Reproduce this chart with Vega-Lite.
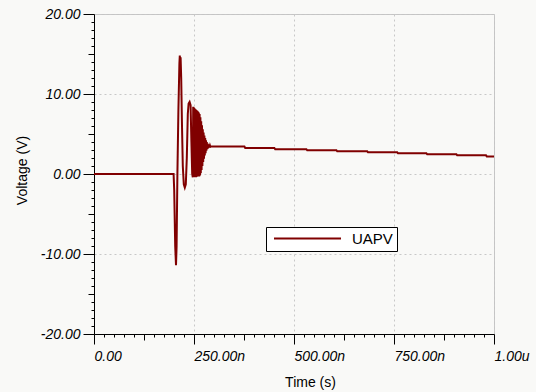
{
  "$schema": "https://vega.github.io/schema/vega-lite/v6.json",
  "width": 400,
  "height": 320,
  "autosize": "none",
  "padding": {"left": 94, "top": 14, "right": 42, "bottom": 58},
  "background": "#f9f9f7",
  "config": {"view": {"stroke": "#c4c4c4", "strokeWidth": 1}},
  "data": {
    "values": [
      {"t": 0, "v": 0}, {"t": 199, "v": 0}, {"t": 200.5, "v": -2}, {"t": 203, "v": -9},
      {"t": 205, "v": -11.4}, {"t": 206.5, "v": -9}, {"t": 208.5, "v": 0}, {"t": 211, "v": 8},
      {"t": 213.5, "v": 13.8}, {"t": 214.5, "v": 14.8}, {"t": 215.5, "v": 14.0}, {"t": 216.5, "v": 14.6},
      {"t": 218, "v": 12}, {"t": 220, "v": 6}, {"t": 222, "v": 1}, {"t": 224.5, "v": -1.3},
      {"t": 227, "v": -1.7}, {"t": 229.5, "v": -1.3}, {"t": 232, "v": 2}, {"t": 234.5, "v": 7.5},
      {"t": 236.5, "v": 8.8}, {"t": 239, "v": 9.0}, {"t": 241.5, "v": 8.6}, {"t": 243.5, "v": 4},
      {"t": 245.5, "v": 0}, {"t": 247, "v": -0.4},
      {"t": 248, "v": 8.4}, {"t": 249, "v": -0.4}, {"t": 250, "v": 8.3}, {"t": 251, "v": -0.4},
      {"t": 252, "v": 8.2}, {"t": 253, "v": -0.4}, {"t": 254, "v": 8.1}, {"t": 255, "v": -0.4},
      {"t": 256, "v": 8.0}, {"t": 257, "v": -0.35}, {"t": 258, "v": 7.9}, {"t": 259, "v": -0.3},
      {"t": 260, "v": 7.8}, {"t": 261, "v": -0.3}, {"t": 262, "v": 7.7}, {"t": 263, "v": -0.3},
      {"t": 264, "v": 7.5}, {"t": 265, "v": -0.2}, {"t": 266, "v": 7.1}, {"t": 267, "v": 0.1},
      {"t": 268, "v": 6.6}, {"t": 269, "v": 0.5}, {"t": 270, "v": 6.1}, {"t": 271, "v": 1.0},
      {"t": 272, "v": 5.6}, {"t": 273, "v": 1.5}, {"t": 274, "v": 5.2}, {"t": 275, "v": 1.9},
      {"t": 276, "v": 4.8}, {"t": 277, "v": 2.3}, {"t": 278, "v": 4.5}, {"t": 279, "v": 2.6},
      {"t": 280, "v": 4.2}, {"t": 281, "v": 2.9}, {"t": 282, "v": 4.0}, {"t": 283, "v": 3.1},
      {"t": 284, "v": 3.8}, {"t": 285, "v": 3.2}, {"t": 286, "v": 3.7}, {"t": 287, "v": 3.3},
      {"t": 288, "v": 3.6}, {"t": 289, "v": 3.35}, {"t": 290, "v": 3.55}, {"t": 291, "v": 3.4},
      {"t": 293, "v": 3.45},
      {"t": 376, "v": 3.45}, {"t": 378, "v": 3.25},
      {"t": 451, "v": 3.25}, {"t": 453, "v": 3.1},
      {"t": 531, "v": 3.1}, {"t": 533, "v": 2.97},
      {"t": 606, "v": 2.97}, {"t": 608, "v": 2.84},
      {"t": 683, "v": 2.84}, {"t": 685, "v": 2.71},
      {"t": 758, "v": 2.71}, {"t": 760, "v": 2.58},
      {"t": 831, "v": 2.58}, {"t": 833, "v": 2.46},
      {"t": 906, "v": 2.46}, {"t": 908, "v": 2.33},
      {"t": 980, "v": 2.33}, {"t": 982, "v": 2.2},
      {"t": 1000, "v": 2.2}
    ]
  },
  "resolve": {"axis": {"x": "independent", "y": "independent"}},
  "layer": [
    {
      "mark": {"type": "line", "strokeWidth": 2},
      "encoding": {
        "x": {
          "field": "t",
          "type": "quantitative",
          "scale": {"domain": [0, 1000], "nice": false, "zero": false},
          "axis": {
            "orient": "bottom",
            "title": "Time (s)",
            "titleFont": "Liberation Sans",
            "titleFontSize": 14,
            "titleFontWeight": "normal",
            "titleColor": "#000000",
            "titleX": 216,
            "titleY": 41,
            "titleBaseline": "top",
            "titleAlign": "center",
            "values": [0, 250, 500, 750, 1000],
            "labelExpr": "datum.value === 0 ? '0.00' : (datum.value === 1000 ? '1.00u' : format(datum.value, '.2f') + 'n')",
            "labelFont": "Liberation Sans",
            "labelFontSize": 14,
            "labelFontStyle": "italic",
            "labelColor": "#000000",
            "labelAlign": "left",
            "labelDx": -8,
            "labelPadding": 5,
            "tickSize": 10,
            "tickColor": "#000000",
            "domainColor": "#000000",
            "gridColor": "#c8c8c8",
            "gridDash": [2, 3]
          }
        },
        "y": {
          "field": "v",
          "type": "quantitative",
          "scale": {"domain": [-20, 20], "nice": false, "zero": false},
          "axis": {
            "orient": "left",
            "title": "Voltage (V)",
            "titleFont": "Liberation Sans",
            "titleFontSize": 14,
            "titleFontWeight": "normal",
            "titleColor": "#000000",
            "titleX": -72,
            "titleY": 156,
            "titleBaseline": "middle",
            "titleAlign": "center",
            "titleAngle": -90,
            "values": [-20, -10, 0, 10, 20],
            "labelExpr": "(datum.value < 0 ? '-' : '') + format(abs(datum.value), '.2f')",
            "labelFont": "Liberation Sans",
            "labelFontSize": 14,
            "labelFontStyle": "italic",
            "labelColor": "#000000",
            "labelPadding": 3,
            "labelOverlap": false,
            "labelBound": false,
            "labelFlush": false,
            "tickSize": 11,
            "tickColor": "#000000",
            "domainColor": "#000000",
            "gridColor": "#c8c8c8",
            "gridDash": [2, 3]
          }
        },
        "color": {
          "datum": "UAPV",
          "type": "nominal",
          "scale": {"domain": ["UAPV"], "range": ["#800000"]},
          "legend": {
            "title": null,
            "orient": "none",
            "legendX": 172,
            "legendY": 213,
            "padding": 4,
            "strokeColor": "#000000",
            "fillColor": "#ffffff",
            "symbolType": "M-6.7,0H6.7",
            "symbolSize": 100,
            "symbolStrokeWidth": 2,
            "symbolOffset": 30,
            "labelFont": "Liberation Sans",
            "labelFontSize": 15,
            "labelColor": "#000000",
            "labelOffset": 37
          }
        }
      }
    },
    {
      "mark": {"type": "line", "opacity": 0},
      "encoding": {
        "x": {
          "field": "t", "type": "quantitative",
          "axis": {
            "orient": "bottom", "title": null, "labels": false, "grid": false, "domain": false,
            "tickSize": 3, "tickColor": "#000000",
            "values": [25,50,75,100,150,175,200,225,275,300,325,350,400,425,450,475,525,550,575,600,650,675,700,725,775,800,825,850,900,925,950,975]
          }
        },
        "y": {
          "field": "v", "type": "quantitative",
          "axis": {
            "orient": "left", "title": null, "labels": false, "grid": false, "domain": false,
            "tickSize": 3, "tickColor": "#000000",
            "values": [-19,-18,-17,-16,-14,-13,-12,-11,-9,-8,-7,-6,-4,-3,-2,-1,1,2,3,4,6,7,8,9,11,12,13,14,16,17,18,19]
          }
        }
      }
    },
    {
      "mark": {"type": "line", "opacity": 0},
      "encoding": {
        "x": {
          "field": "t", "type": "quantitative",
          "axis": {
            "orient": "bottom", "title": null, "labels": false, "grid": false, "domain": false,
            "tickSize": 6, "tickColor": "#000000",
            "values": [125, 375, 625, 875]
          }
        },
        "y": {
          "field": "v", "type": "quantitative",
          "axis": {
            "orient": "left", "title": null, "labels": false, "grid": false, "domain": false,
            "tickSize": 6, "tickColor": "#000000",
            "values": [-15, -5, 5, 15]
          }
        }
      }
    }
  ]
}
